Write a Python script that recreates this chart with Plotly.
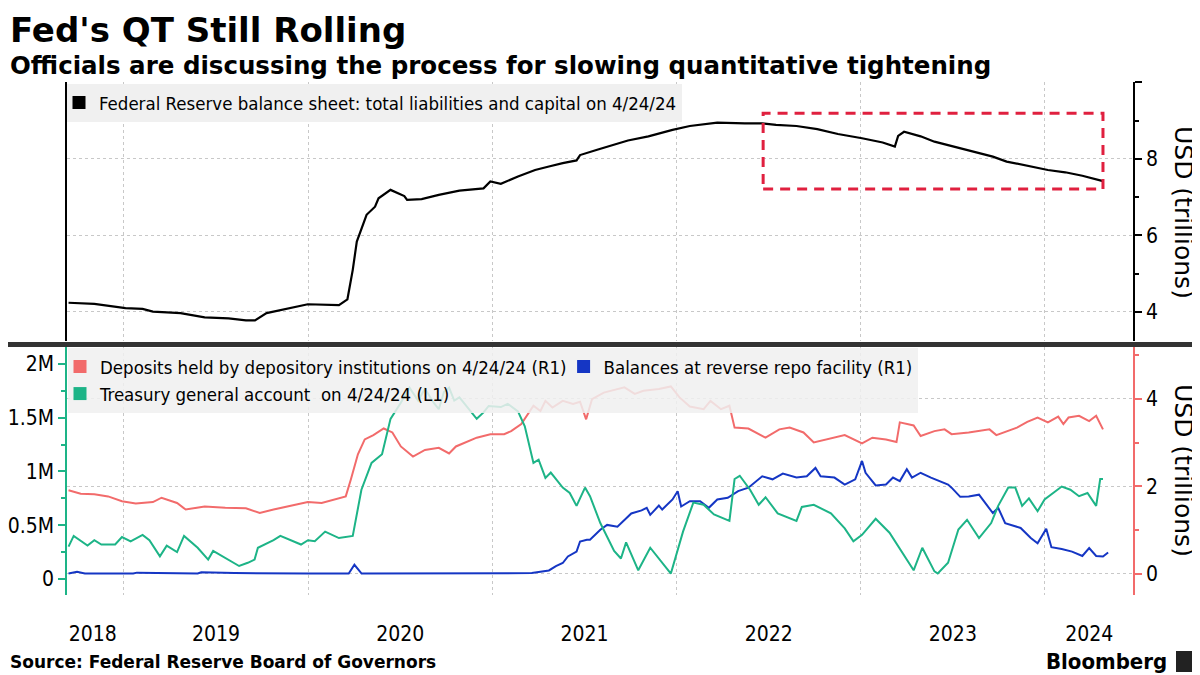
import plotly.graph_objects as go

# ---------------- data (x in decimal years) ----------------
bs_x = [2018.699, 2018.839, 2019.008, 2019.101, 2019.157, 2019.307, 2019.438, 2019.568, 2019.662,
        2019.711, 2019.774, 2019.868, 2019.998, 2020.167, 2020.213, 2020.242, 2020.264, 2020.317,
        2020.363, 2020.382, 2020.447, 2020.522, 2020.537, 2020.616, 2020.709, 2020.821, 2020.952,
        2020.989, 2021.046, 2021.139, 2021.232, 2021.307, 2021.382, 2021.457, 2021.476, 2021.569,
        2021.623, 2021.736, 2021.847, 2021.904, 2021.978, 2022.072, 2022.221, 2022.371, 2022.465,
        2022.540, 2022.651, 2022.764, 2022.876, 2023.007, 2023.119, 2023.185, 2023.203, 2023.235,
        2023.325, 2023.400, 2023.511, 2023.624, 2023.717, 2023.792, 2023.923, 2024.016, 2024.110,
        2024.203, 2024.315]
bs_val = [4.24, 4.21, 4.10, 4.08, 4.01, 3.97, 3.86, 3.83, 3.78,
          3.78, 3.97, 4.07, 4.20, 4.18, 4.33, 5.10, 5.84, 6.54,
          6.75, 6.97, 7.19, 7.03, 6.93, 6.95, 7.06, 7.17, 7.23,
          7.41, 7.35, 7.54, 7.71, 7.80, 7.89, 7.96, 8.10, 8.24,
          8.32, 8.48, 8.59, 8.67, 8.76, 8.86, 8.95, 8.93, 8.93,
          8.89, 8.86, 8.78, 8.65, 8.54, 8.43, 8.32, 8.60, 8.71,
          8.59, 8.45, 8.32, 8.17, 8.06, 7.93, 7.80, 7.71, 7.65,
          7.56, 7.42]

dep_x = [2018.699, 2018.765, 2018.839, 2018.914, 2018.989, 2019.064, 2019.157, 2019.204, 2019.288,
         2019.335, 2019.438, 2019.550, 2019.662, 2019.737, 2019.812, 2019.924, 2019.998, 2020.073,
         2020.148, 2020.204, 2020.232, 2020.270, 2020.307, 2020.354, 2020.410, 2020.457, 2020.503,
         2020.569, 2020.634, 2020.709, 2020.765, 2020.802, 2020.915, 2020.989, 2021.064, 2021.102,
         2021.157, 2021.223, 2021.261, 2021.288, 2021.326, 2021.382, 2021.438, 2021.476, 2021.509,
         2021.541, 2021.605, 2021.717, 2021.773, 2021.820, 2021.904, 2021.969, 2022.016, 2022.072,
         2022.147, 2022.184, 2022.241, 2022.287, 2022.315, 2022.390, 2022.483, 2022.558, 2022.614,
         2022.689, 2022.745, 2022.838, 2022.913, 2023.007, 2023.063, 2023.137, 2023.194, 2023.212,
         2023.287, 2023.325, 2023.400, 2023.455, 2023.493, 2023.586, 2023.699, 2023.736, 2023.848,
         2023.904, 2023.960, 2024.016, 2024.072, 2024.100, 2024.128, 2024.185, 2024.240, 2024.278,
         2024.315]
dep_val = [1.91, 1.83, 1.82, 1.77, 1.66, 1.61, 1.64, 1.74, 1.62,
           1.47, 1.54, 1.51, 1.50, 1.39, 1.47, 1.58, 1.64, 1.62,
           1.70, 1.77, 2.16, 2.73, 3.07, 3.17, 3.32, 3.23, 2.91,
           2.68, 2.83, 2.88, 2.75, 2.91, 3.11, 3.19, 3.19, 3.26,
           3.42, 3.84, 3.72, 3.95, 3.80, 3.95, 3.88, 3.93, 3.53,
           3.99, 4.14, 4.26, 4.11, 4.18, 4.22, 4.28, 4.03, 3.82,
           3.76, 3.95, 3.76, 3.84, 3.34, 3.32, 3.11, 3.30, 3.34,
           3.23, 3.00, 3.09, 3.17, 2.98, 3.11, 3.07, 3.01, 3.46,
           3.39, 3.15, 3.26, 3.30, 3.19, 3.23, 3.30, 3.17, 3.34,
           3.47, 3.57, 3.46, 3.59, 3.42, 3.57, 3.61, 3.49, 3.61,
           3.30]

rrp_x = [2018.699, 2018.745, 2018.788, 2019.050, 2019.070, 2019.400, 2019.420, 2019.570, 2019.600,
         2020.000, 2020.220, 2020.251, 2020.290, 2021.214, 2021.307, 2021.345, 2021.382, 2021.410,
         2021.457, 2021.476, 2021.513, 2021.530, 2021.586, 2021.623, 2021.679, 2021.754, 2021.810,
         2021.838, 2021.857, 2021.904, 2021.922, 2021.978, 2022.006, 2022.025, 2022.072, 2022.128,
         2022.175, 2022.221, 2022.278, 2022.334, 2022.390, 2022.465, 2022.521, 2022.577, 2022.651,
         2022.707, 2022.754, 2022.782, 2022.857, 2022.913, 2022.970, 2023.007, 2023.026, 2023.081,
         2023.137, 2023.175, 2023.212, 2023.250, 2023.278, 2023.325, 2023.381, 2023.474, 2023.493,
         2023.540, 2023.586, 2023.642, 2023.717, 2023.746, 2023.784, 2023.868, 2023.923, 2023.960,
         2024.007, 2024.035, 2024.091, 2024.147, 2024.203, 2024.240, 2024.278, 2024.315, 2024.343]
rrp_val = [0.01, 0.05, 0.01, 0.01, 0.03, 0.01, 0.04, 0.01, 0.02,
           0.01, 0.01, 0.21, 0.01, 0.02, 0.08, 0.18, 0.25, 0.40,
           0.51, 0.74, 0.78, 0.78, 1.01, 1.12, 1.08, 1.38, 1.45,
           1.51, 1.35, 1.56, 1.47, 1.70, 1.89, 1.54, 1.66, 1.66,
           1.51, 1.70, 1.74, 1.89, 1.97, 2.23, 2.16, 2.29, 2.20,
           2.23, 2.42, 2.23, 2.20, 2.04, 2.16, 2.58, 2.31, 2.02,
           2.04, 2.20, 2.12, 2.39, 2.20, 2.31, 2.20, 2.04, 1.97,
           1.76, 1.77, 1.81, 1.39, 1.51, 1.16, 1.05, 0.82, 0.70,
           1.03, 0.61, 0.57, 0.51, 0.41, 0.59, 0.41, 0.40, 0.49]

tga_x = [2018.699, 2018.727, 2018.802, 2018.839, 2018.877, 2018.952, 2018.989, 2019.036, 2019.101,
         2019.138, 2019.195, 2019.232, 2019.288, 2019.326, 2019.400, 2019.457, 2019.484, 2019.568,
         2019.625, 2019.672, 2019.709, 2019.727, 2019.774, 2019.812, 2019.849, 2019.961, 2019.999,
         2020.036, 2020.092, 2020.167, 2020.242, 2020.289, 2020.344, 2020.401, 2020.447, 2020.503,
         2020.550, 2020.597, 2020.634, 2020.681, 2020.709, 2020.737, 2020.765, 2020.793, 2020.821,
         2020.915, 2020.952, 2020.980, 2021.046, 2021.083, 2021.139, 2021.176, 2021.223, 2021.251,
         2021.288, 2021.317, 2021.382, 2021.420, 2021.457, 2021.503, 2021.530, 2021.586, 2021.661,
         2021.698, 2021.726, 2021.792, 2021.857, 2021.922, 2021.969, 2022.035, 2022.091, 2022.147,
         2022.203, 2022.287, 2022.315, 2022.343, 2022.399, 2022.446, 2022.483, 2022.549, 2022.651,
         2022.680, 2022.745, 2022.838, 2022.913, 2022.960, 2023.007, 2023.081, 2023.156, 2023.287,
         2023.334, 2023.400, 2023.418, 2023.474, 2023.530, 2023.577, 2023.642, 2023.708, 2023.746,
         2023.801, 2023.839, 2023.876, 2023.913, 2023.960, 2023.998, 2024.091, 2024.138, 2024.185,
         2024.231, 2024.278, 2024.300, 2024.315]
tga_val = [0.30, 0.40, 0.31, 0.36, 0.32, 0.32, 0.39, 0.35, 0.41,
           0.36, 0.21, 0.31, 0.25, 0.40, 0.29, 0.18, 0.26, 0.18,
           0.12, 0.15, 0.18, 0.29, 0.33, 0.36, 0.40, 0.32, 0.36,
           0.35, 0.44, 0.38, 0.40, 0.83, 1.08, 1.16, 1.49, 1.64,
           1.78, 1.66, 1.77, 1.64, 1.58, 1.74, 1.78, 1.66, 1.69,
           1.49, 1.55, 1.61, 1.60, 1.63, 1.56, 1.42, 1.08, 1.11,
           0.94, 0.99, 0.85, 0.80, 0.68, 0.85, 0.77, 0.52, 0.26,
           0.19, 0.34, 0.08, 0.29, 0.15, 0.05, 0.44, 0.71, 0.69,
           0.60, 0.54, 0.93, 0.96, 0.83, 0.69, 0.76, 0.61, 0.54,
           0.67, 0.69, 0.61, 0.47, 0.35, 0.41, 0.56, 0.43, 0.08,
           0.29, 0.07, 0.05, 0.15, 0.46, 0.55, 0.38, 0.52, 0.68,
           0.85, 0.85, 0.68, 0.75, 0.63, 0.74, 0.86, 0.83, 0.77,
           0.80, 0.68, 0.93, 0.93]

year_bounds = [2019, 2020, 2021, 2022, 2023, 2024]
year_label_pos = [2018.83, 2019.5, 2020.5, 2021.5, 2022.5, 2023.5, 2024.24]
year_labels = ["2018", "2019", "2020", "2021", "2022", "2023", "2024"]
qt_box_x = [2022.470, 2024.315]
qt_box_y = [7.21, 9.19]

# ---------------- styling ----------------
# The page body has an 8px margin, so the figure is drawn 8px in from the window corner.
OFF = 8
FW, FH = 1200 - OFF, 675 - OFF
BLACK = "#000000"
RED = "#f26b6b"
BLUE = "#1536c4"
GREEN = "#1db487"
GRID = "#c8c8c8"
BOX = "#e0203f"
FONT = "DejaVu Sans Condensed, DejaVu Sans, sans-serif"
BOLD = "DejaVu Sans, sans-serif"

def X(p):
    return (p - OFF) / FW

def Y(p):
    return 1 - (p - OFF) / FH

XR = [2018.6906, 2024.478]
xdom = [X(67), X(1133)]
top_dom = [Y(341), Y(82)]
bot_dom = [Y(595), Y(347)]

fig = go.Figure()
fig.add_trace(go.Scatter(x=bs_x, y=bs_val, mode="lines", line=dict(color=BLACK, width=2.2),
                         xaxis="x", yaxis="y", showlegend=False))
fig.add_trace(go.Scatter(x=dep_x, y=dep_val, mode="lines", line=dict(color=RED, width=2),
                         xaxis="x2", yaxis="y2", showlegend=False))
fig.add_trace(go.Scatter(x=rrp_x, y=rrp_val, mode="lines", line=dict(color=BLUE, width=2),
                         xaxis="x2", yaxis="y2", showlegend=False))
fig.add_trace(go.Scatter(x=tga_x, y=tga_val, mode="lines", line=dict(color=GREEN, width=2),
                         xaxis="x2", yaxis="y3", showlegend=False))

# legend entries (square swatches)
def leg(name, color, legend, xa, ya):
    fig.add_trace(go.Scatter(x=[None], y=[None], mode="markers", name=name,
                             marker=dict(symbol="square", size=13, color=color),
                             xaxis=xa, yaxis=ya, legend=legend, showlegend=True))

leg("Federal Reserve balance sheet: total liabilities and capital on 4/24/24", BLACK, "legend", "x", "y")
leg("Deposits held by depository institutions on 4/24/24 (R1)", RED, "legend2", "x2", "y2")
leg("Balances at reverse repo facility (R1)", BLUE, "legend2", "x2", "y2")
leg("Treasury general account  on 4/24/24 (L1)", GREEN, "legend2", "x2", "y2")

fig.update_layout(
    width=FW, height=FH, margin=dict(l=0, r=0, t=0, b=0, autoexpand=False),
    paper_bgcolor="white", plot_bgcolor="white",
    font=dict(family=FONT, size=18, color="black"),
    xaxis=dict(domain=xdom, range=XR, anchor="y", tickvals=year_bounds, showticklabels=False,
               showgrid=True, gridcolor=GRID, griddash="dot", gridwidth=1, ticks="",
               zeroline=False, showline=False, automargin=False),
    yaxis=dict(domain=top_dom, range=[3.24, 10.01], side="right", anchor="x",
               tickvals=[4, 6, 8, 10], ticktext=["4", "6", "8", ""],
               showgrid=True, gridcolor=GRID, griddash="dot", gridwidth=1,
               showline=True, linecolor=BLACK, linewidth=1.5, mirror=True,
               ticks="outside", ticklen=7, tickwidth=2, tickcolor=BLACK,
               minor=dict(tickvals=[5, 7, 9], ticks="outside", ticklen=4, tickcolor=BLACK, showgrid=False),
               zeroline=False, tickfont=dict(size=21), automargin=False),
    xaxis2=dict(domain=xdom, range=XR, anchor="y2", tickvals=year_label_pos, ticktext=year_labels,
                showgrid=False, ticks="", ticklabelstandoff=24, tickfont=dict(size=21),
                minor=dict(tickvals=year_bounds, showgrid=True, gridcolor=GRID, griddash="dot",
                           gridwidth=1, ticks=""),
                zeroline=False, showline=False, automargin=False),
    yaxis2=dict(domain=bot_dom, range=[-0.48, 5.18], side="right", anchor="x2",
                tickvals=[0, 2, 4], showgrid=True, gridcolor=GRID, griddash="dot", gridwidth=1,
                showline=True, linecolor=RED, linewidth=1.5,
                ticks="outside", ticklen=7, tickwidth=2, tickcolor=RED,
                minor=dict(tickvals=[1, 3, 5], ticks="outside", ticklen=4, tickcolor=RED, showgrid=False),
                zeroline=False, tickfont=dict(size=21), automargin=False),
    yaxis3=dict(overlaying="y2", range=[-0.15, 2.159], side="left", anchor="x2",
                tickvals=[0, 0.5, 1, 1.5, 2], ticktext=["0", "0.5M", "1M", "1.5M", "2M"],
                showgrid=False, showline=True, linecolor=GREEN, linewidth=1.5,
                ticks="outside", ticklen=7, tickwidth=2, tickcolor=GREEN,
                minor=dict(tickvals=[0.25, 0.75, 1.25, 1.75], ticks="outside", ticklen=4,
                           tickcolor=GREEN, showgrid=False),
                zeroline=False, tickfont=dict(size=21), automargin=False),
    legend=dict(x=X(67), y=Y(84), xanchor="left", yanchor="top", bgcolor="#f0f0f0",
                font=dict(size=18.5), itemwidth=30, borderwidth=0, orientation="v", indentation=-8),
    legend2=dict(x=X(68), y=Y(348), xanchor="left", yanchor="top",
                 bgcolor="rgba(240,240,240,0.85)", font=dict(size=18.5), itemwidth=30,
                 borderwidth=0, orientation="h", traceorder="normal", indentation=-8),
)

shapes = [
    dict(type="rect", xref="x", yref="y", x0=qt_box_x[0], x1=qt_box_x[1], y0=qt_box_y[0], y1=qt_box_y[1],
         line=dict(color=BOX, width=3, dash="10px,7px")),
    dict(type="rect", xref="paper", yref="paper", x0=0, x1=1, y0=Y(347), y1=Y(342),
         fillcolor="#333333", line=dict(width=0), layer="above"),
    dict(type="rect", xref="paper", yref="paper", x0=X(1176), x1=X(1194), y0=Y(672), y1=Y(651),
         fillcolor="#222222", line=dict(width=0)),
]
fig.update_layout(shapes=shapes)

title_text = ("<span style='font-size:34px'><b>Fed's QT Still Rolling</b></span><br>"
              "<b>Officials are discussing the process for slowing quantitative tightening</b>")

ann = [
    dict(text=title_text, x=X(8), y=Y(8), xanchor="left", yanchor="top", align="left",
         font=dict(family=BOLD, size=24.5, color="black")),
    dict(text="USD (trillions)", x=X(1184), y=Y(212), textangle=90, xanchor="center", yanchor="middle",
         font=dict(family=BOLD, size=25)),
    dict(text="USD (trillions)", x=X(1184), y=Y(470), textangle=90, xanchor="center", yanchor="middle",
         font=dict(family=BOLD, size=25)),
    dict(text="<b>Source: Federal Reserve Board of Governors</b>", x=X(8), y=Y(662), xanchor="left",
         yanchor="middle", font=dict(family=BOLD, size=17, color="black")),
    dict(text="<b>Bloomberg</b>", x=X(1169), y=Y(661), xanchor="right", yanchor="middle",
         font=dict(family=FONT, size=22, color="black")),
]
for a in ann:
    a.update(xref="paper", yref="paper", showarrow=False)
fig.update_layout(annotations=ann)

fig.write_html("out.html")
